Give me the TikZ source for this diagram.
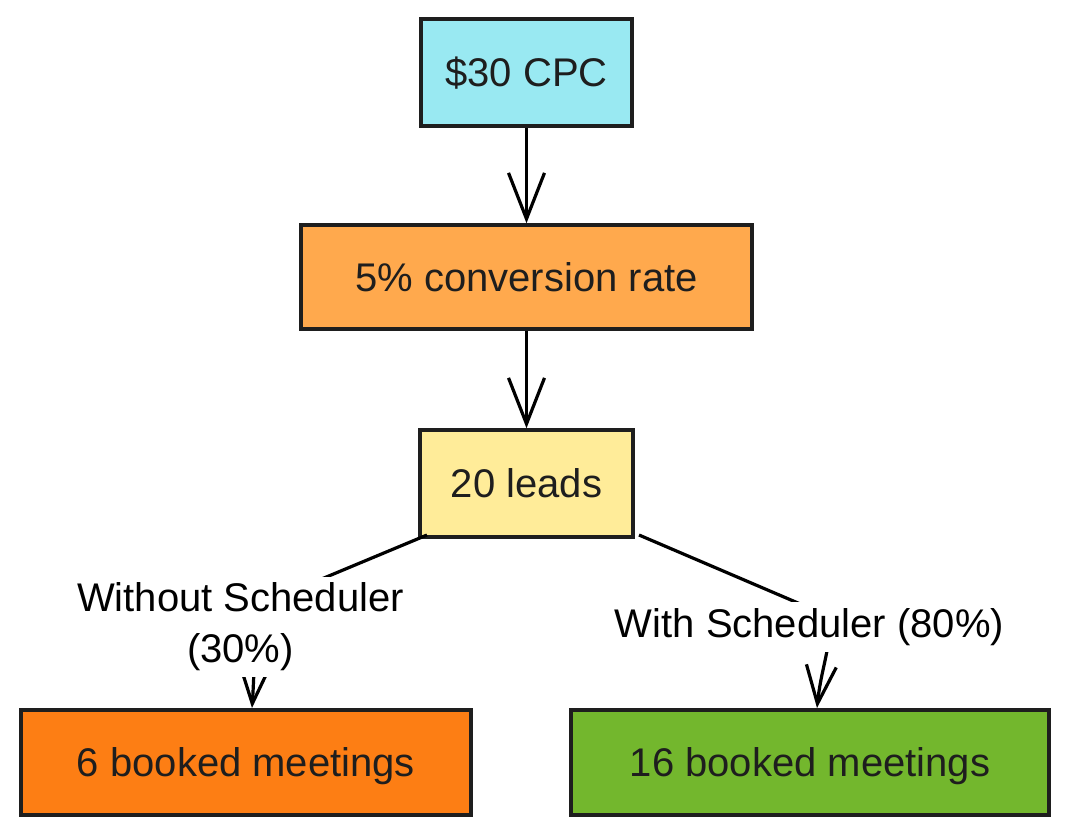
\documentclass[tikz,border=0pt]{standalone}
\usepackage{fontspec}
\setmainfont{Liberation Sans}
\usetikzlibrary{arrows.meta}
\definecolor{inkc}{HTML}{1E1E1E}
\definecolor{cyanf}{HTML}{99E9F2}
\definecolor{orangel}{HTML}{FFA94D}
\definecolor{yellowf}{HTML}{FFEC99}
\definecolor{oranged}{HTML}{FD7E14}
\definecolor{limef}{HTML}{73B72D}
\begin{document}
\begin{tikzpicture}[x=1pt,y=-1pt,
  boxn/.style={draw=inkc, line width=3.5pt, text=inkc, inner sep=0pt,
    font=\fontsize{40}{48}\selectfont, text height=28.5pt, text depth=0pt},
  lbl/.style={fill=white, align=center, inner sep=6pt, text=black,
    font=\fontsize{40}{51}\selectfont},
  conn/.style={draw=black, line width=3.2pt},
  bigtip/.style={-{Straight Barb[length=46pt,width=36pt]}},
  smalltip/.style={-{Straight Barb[length=38pt,width=30pt]}}
]
\useasboundingbox (0,0) rectangle (1068,835);

\node[boxn, fill=cyanf, minimum width=211pt, minimum height=107pt] (cpc) at (526.5,72.5) {\$30 CPC};
\node[boxn, fill=orangel, minimum width=451pt, minimum height=104pt] (conv) at (526.5,277) {5\% conversion rate};
\node[boxn, fill=yellowf, minimum width=213pt, minimum height=107pt] (leads) at (526.5,483.5) {20 leads};
\node[boxn, fill=oranged, minimum width=450pt, minimum height=105pt] (six) at (246,762.5) {6 booked meetings};
\node[boxn, fill=limef, minimum width=478pt, minimum height=105pt] (sixteen) at (810,762.5) {16 booked meetings};

\draw[conn, bigtip] (cpc.south) -- (conv.north);
\draw[conn, bigtip] (conv.south) -- (leads.north);

\coordinate (l1) at (427,535);
\coordinate (lm) at (300,588);
\coordinate (l2) at (252,708);
\draw[conn, smalltip] (l1) -- (lm) .. controls (250,610) and (256,650) .. (l2);
\coordinate (r1) at (639,535);
\coordinate (rm) at (805,606);
\coordinate (r2) at (817,708);
\draw[conn, smalltip] (r1) -- (rm) .. controls (845,623) and (823,650) .. (r2);

\node[lbl] (wo) at (240.5,627) {Without Scheduler\\(30\%)};
\node[lbl] (wi) at (809.5,627) {With Scheduler (80\%)};
\end{tikzpicture}
\end{document}
